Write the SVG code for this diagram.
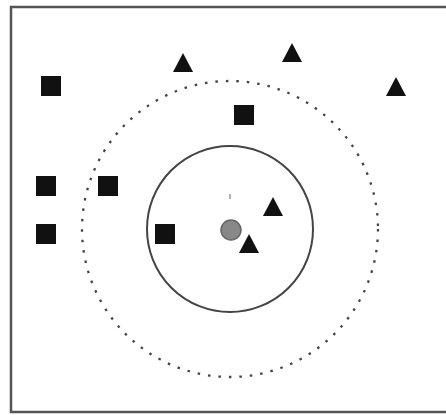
<svg xmlns="http://www.w3.org/2000/svg" width="446" height="415" viewBox="0 0 446 415">
<style>
.sq{fill:#111}
.tri{fill:#111}
.frame{fill:none;stroke:#555;stroke-width:2.5}
</style>
<defs>
<rect id="s" class="sq" x="-10" y="-10" width="20" height="20"/>
<polygon id="t" class="tri" points="0,-10 10,9 -10,9"/>
</defs>
<rect width="446" height="415" fill="#fff"/>
<path class="frame" d="M450,7 H11 V412 H450"/>
<g id="connectors">
<circle id="outer" cx="230" cy="229" r="148" fill="none" stroke="#444" stroke-width="2.3" stroke-dasharray="2.5 8"/>
<circle id="inner" cx="230" cy="229" r="83" fill="none" stroke="#444" stroke-width="2"/>
</g>
<g id="squares">
<use href="#s" x="51" y="86"/>
<use href="#s" x="244" y="115"/>
<use href="#s" x="46" y="186"/>
<use href="#s" x="108" y="186"/>
<use href="#s" x="46" y="234"/>
<use href="#s" x="165" y="234"/>
</g>
<g id="triangles">
<use href="#t" x="183" y="63"/>
<use href="#t" x="292" y="53"/>
<use href="#t" x="396" y="87"/>
<use href="#t" x="273" y="207"/>
<use href="#t" x="249" y="244"/>
</g>
<g id="query">
<circle cx="231" cy="230" r="10" fill="#888" stroke="#666" stroke-width="1.5"/>
<line x1="230" y1="194" x2="230" y2="199" stroke="#999" stroke-width="1.5"/>
</g>
</svg>
